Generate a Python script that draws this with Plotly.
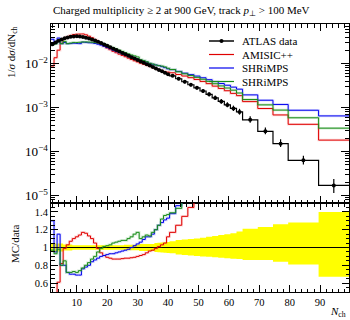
import plotly.graph_objects as go

# ---------------- data ----------------
bin_edges = [1.5, 2.5, 3.5, 4.5, 5.5, 6.5, 7.5, 8.5, 9.5, 10.5,
             11.5, 12.5, 13.5, 14.5, 15.5, 16.5, 17.5, 18.5, 19.5, 20.5,
             21.5, 22.5, 23.5, 24.5, 25.5, 26.5, 27.5, 28.5, 29.5, 30.5,
             31.5, 32.5, 33.5, 34.5, 35.5, 36.5, 37.5, 38.5, 39.5, 40.5,
             42.5, 44.5, 46.5, 48.5, 50.5, 52.5, 54.5, 56.5, 58.5, 60.5,
             62.5, 64.5, 69.5, 74.5, 79.5, 89.5, 99.5]

atlas_data = [0.0275, 0.0302, 0.0331, 0.0355, 0.0376, 0.0394, 0.0407, 0.0415, 0.0417, 0.0412,
              0.0403, 0.0389, 0.0372, 0.0352, 0.0333, 0.0313, 0.0292, 0.0272, 0.0253, 0.0235,
              0.0218, 0.0203, 0.0188, 0.0175, 0.0163, 0.0151, 0.0140, 0.0130, 0.0121, 0.0112,
              0.01045, 0.0097, 0.0090, 0.00836, 0.00774, 0.00718, 0.00665, 0.00617, 0.00571,
              0.00528, 0.00452, 0.00386, 0.00330, 0.00281, 0.00238, 0.00200, 0.00166, 0.00138,
              0.00115, 0.000955, 0.000794,
              0.000525, 0.000288, 0.000151, 0.000063, 0.000017]

# relative data uncertainty (up / down)
err_up = [0.045, 0.045, 0.045, 0.045, 0.035, 0.035, 0.035, 0.025, 0.025, 0.025,
          0.025, 0.025, 0.025, 0.025, 0.025, 0.025, 0.025, 0.025, 0.025, 0.025,
          0.025, 0.025, 0.025, 0.025, 0.03, 0.03, 0.03, 0.03, 0.03, 0.04,
          0.04, 0.04, 0.04, 0.04, 0.05, 0.052, 0.055, 0.058, 0.062,
          0.07, 0.085, 0.09, 0.095, 0.10, 0.11, 0.12, 0.13, 0.14, 0.15, 0.16, 0.18,
          0.21, 0.23, 0.26, 0.28, 0.40]
err_dn = [0.045, 0.045, 0.045, 0.045, 0.035, 0.035, 0.035, 0.025, 0.025, 0.025,
          0.025, 0.025, 0.025, 0.025, 0.025, 0.025, 0.025, 0.025, 0.025, 0.025,
          0.025, 0.025, 0.025, 0.025, 0.03, 0.03, 0.03, 0.03, 0.03, 0.04,
          0.04, 0.04, 0.04, 0.04, 0.05, 0.052, 0.055, 0.058, 0.062,
          0.065, 0.08, 0.085, 0.09, 0.095, 0.10, 0.105, 0.11, 0.115, 0.12, 0.125, 0.13,
          0.14, 0.14, 0.16, 0.19, 0.33]

# MC / data ratios
ratio_amisic = [0.32, 0.45, 0.61, 0.82, 0.99, 1.03, 1.07, 1.10, 1.12, 1.14,
                1.17, 1.16, 1.13, 1.10, 1.05, 0.99, 0.94, 0.91, 0.89, 0.88,
                0.87, 0.87, 0.87, 0.875, 0.88, 0.88, 0.885, 0.89, 0.90, 0.91,
                0.92, 0.94, 0.96, 0.97, 0.99, 1.01, 1.03, 1.05, 1.12,
                1.17, 1.25, 1.35, 1.45, 1.55, 1.65, 1.75, 1.85, 1.97, 2.1, 2.2, 2.35,
                2.6, 3.3, 4.5, 6.6, 10.7]
ratio_shrimps_blue = [1.30, 0.95, 1.15, 0.80, 0.80, 0.72, 0.70, 0.70, 0.69, 0.69,
                      0.76, 0.78, 0.80, 0.84, 0.86, 0.88, 0.90, 0.91, 0.92, 0.93,
                      0.93, 0.94, 0.95, 0.96, 0.97, 0.98, 1.00, 1.02, 1.04, 1.06,
                      1.09, 1.12, 1.12, 1.15, 1.20, 1.25, 1.28, 1.31, 1.33,
                      1.38, 1.47, 1.57, 1.70, 1.85, 2.0, 2.15, 2.35, 2.55, 2.8, 3.05, 3.3,
                      3.7, 5.1, 7.8, 13.8, 38.0]
ratio_shrimps_green = [0.97, 0.93, 0.98, 0.80, 0.85, 0.72, 0.72, 0.73, 0.72, 0.74,
                       0.77, 0.80, 0.83, 0.87, 0.90, 0.95, 0.99, 1.01, 1.02, 1.03,
                       1.05, 1.06, 1.07, 1.08, 1.08, 1.10, 1.12, 1.15, 1.17, 1.10,
                       1.12, 1.14, 1.13, 1.17, 1.20, 1.25, 1.32, 1.36, 1.37,
                       1.39, 1.44, 1.52, 1.62, 1.73, 1.85, 1.97, 2.1, 2.25, 2.42, 2.6, 2.7,
                       2.9, 4.0, 5.8, 9.3, 20.0]

x_ticks = [10, 20, 30, 40, 50, 60, 70, 80, 90]
ratio_ticks = [0.6, 0.8, 1.0, 1.2, 1.4]
ratio_ticktext = ["0.6", "0.8", "1", "1.2", "1.4"]

# ---------------- derived ----------------
centres = [(bin_edges[i] + bin_edges[i + 1]) / 2 for i in range(len(atlas_data))]


def step(vals):
    return list(bin_edges), list(vals) + [vals[-1]]


mc_series = [
    ("AMISIC++", ratio_amisic, "#e00000", "rgba(240,90,90,0.22)"),
    ("SHRiMPS", ratio_shrimps_blue, "#0000ee", "rgba(90,90,255,0.22)"),
    ("SHRiMPS", ratio_shrimps_green, "#1a8c1a", "rgba(60,170,60,0.22)"),
]

FONT = "Liberation Serif"
fig = go.Figure()

# ---- ratio panel: yellow band ----
lo = [1 - e for e in err_dn]
hi = [1 + e for e in err_up]
bx, by = step(lo)
fig.add_trace(go.Scatter(x=bx, y=by, mode="lines", line=dict(width=0, shape="hv"),
                         xaxis="x2", yaxis="y2", showlegend=False, hoverinfo="skip"))
bx, by = step(hi)
fig.add_trace(go.Scatter(x=bx, y=by, mode="lines", line=dict(width=0, shape="hv"),
                         fill="tonexty", fillcolor="#ffff00",
                         xaxis="x2", yaxis="y2", showlegend=False, hoverinfo="skip"))
bx, by = step([1.0] * len(atlas_data))
fig.add_trace(go.Scatter(x=bx, y=by, mode="lines", line=dict(color="black", width=1.2, shape="hv"),
                         xaxis="x2", yaxis="y2", showlegend=False))

# ---- MC curves ----
for name, ratio, col, pale in mc_series:
    mc = [r * d for r, d in zip(ratio, atlas_data)]
    sx, sy = step(mc)
    fig.add_trace(go.Scatter(x=sx, y=sy, mode="lines", line=dict(color=pale, width=2.5, shape="hv"),
                             xaxis="x", yaxis="y", showlegend=False, hoverinfo="skip"))
    fig.add_trace(go.Scatter(x=sx, y=sy, mode="lines", line=dict(color=col, width=1, shape="hv"),
                             xaxis="x", yaxis="y", showlegend=False, name=name))
    rx, ry = step(ratio)
    fig.add_trace(go.Scatter(x=rx, y=ry, mode="lines", line=dict(color=pale, width=2.5, shape="hv"),
                             xaxis="x2", yaxis="y2", showlegend=False, hoverinfo="skip"))
    fig.add_trace(go.Scatter(x=rx, y=ry, mode="lines", line=dict(color=col, width=1, shape="hv"),
                             xaxis="x2", yaxis="y2", showlegend=False, name=name))

# ---- data ----
sx, sy = step(atlas_data)
fig.add_trace(go.Scatter(x=sx, y=sy, mode="lines", line=dict(color="black", width=1.2, shape="hv"),
                         xaxis="x", yaxis="y", showlegend=False))
fig.add_trace(go.Scatter(
    x=centres, y=atlas_data, mode="markers",
    marker=dict(color="black", size=4),
    error_y=dict(type="data", symmetric=False,
                 array=[d * e for d, e in zip(atlas_data, err_up)],
                 arrayminus=[d * e for d, e in zip(atlas_data, err_dn)],
                 color="black", thickness=1.2, width=0),
    xaxis="x", yaxis="y", showlegend=False, name="ATLAS data"))

# ---------------- layout ----------------
L, R, T, B = 51, 1, 24, 28
W, H = 350, 320
pw, ph = W - L - R, H - T - B
split = 89 / ph


def px_x(p):
    return (p - L) / pw


def px_y(p):
    return (H - B - p) / ph


axis_common = dict(showline=True, linecolor="black", linewidth=1, mirror="ticks",
                   ticks="inside", tickcolor="black", showgrid=False, zeroline=False)

fig.update_layout(
    width=W, height=H,
    margin=dict(l=L, r=R, t=T, b=B),
    paper_bgcolor="white", plot_bgcolor="white",
    font=dict(family=FONT, size=11, color="black"),
    xaxis=dict(domain=[0, 1], range=[1.5, 99.5], anchor="y", showticklabels=False,
               tickvals=x_ticks, ticklen=7, tickwidth=1,
               minor=dict(ticks="inside", dtick=2, tick0=0, ticklen=3.5, tickcolor="black"),
               **axis_common),
    xaxis2=dict(domain=[0, 1], range=[1.5, 99.5], anchor="y2", matches="x",
                tickvals=x_ticks, ticklen=7, tickwidth=1,
                tickfont=dict(family=FONT, size=10.5),
                minor=dict(ticks="inside", dtick=2, tick0=0, ticklen=3.5, tickcolor="black"),
                **axis_common),
    yaxis=dict(domain=[split, 1], type="log", range=[-5.17, -1.10], anchor="x",
               dtick=1, exponentformat="power", ticklen=8,
               tickfont=dict(family=FONT, size=10.5),
               minor=dict(ticks="inside", ticklen=4, tickcolor="black", dtick="D1"),
               **axis_common),
    yaxis2=dict(domain=[0, split], range=[0.5, 1.5], anchor="x2",
                tickvals=ratio_ticks, ticktext=ratio_ticktext, ticklen=7,
                tickfont=dict(family=FONT, size=10.5),
                minor=dict(ticks="inside", dtick=0.05, tick0=0, ticklen=3.5, tickcolor="black"),
                **axis_common),
)

ann = []
ann.append(dict(text="Charged multiplicity ≥ 2 at 900 GeV, track <i>p</i><sub>⊥</sub> > 100 MeV",
                xref="paper", yref="paper", x=px_x(51), y=px_y(11), xanchor="left", yanchor="middle",
                showarrow=False, font=dict(family=FONT, size=11)))
ann.append(dict(text="1/<i>σ</i> d<i>σ</i>/dN<sub>ch</sub>", textangle=-90,
                xref="paper", yref="paper", x=px_x(12), y=px_y(24), xanchor="center", yanchor="top",
                showarrow=False, font=dict(family=FONT, size=11)))
ann.append(dict(text="MC/data", textangle=-90,
                xref="paper", yref="paper", x=px_x(15), y=px_y(244), xanchor="center", yanchor="middle",
                showarrow=False, font=dict(family=FONT, size=11)))
ann.append(dict(text="<i>N</i><sub>ch</sub>",
                xref="paper", yref="paper", x=px_x(348), y=px_y(312), xanchor="right", yanchor="middle",
                showarrow=False, font=dict(family=FONT, size=11)))

# custom legend
legend_rows = [("ATLAS data", "black", 41), ("AMISIC++", "#e00000", 54.5),
               ("SHRiMPS", "#0000ee", 68), ("SHRiMPS", "#1a8c1a", 81.5)]
shapes = []
for i, (lab, col, yp) in enumerate(legend_rows):
    shapes.append(dict(type="line", xref="paper", yref="paper",
                       x0=px_x(209), x1=px_x(234), y0=px_y(yp), y1=px_y(yp),
                       line=dict(color=col if i else "#444444", width=2 if i == 0 else 1.2)))
    ann.append(dict(text=lab, xref="paper", yref="paper", x=px_x(240), y=px_y(yp),
                    xanchor="left", yanchor="middle", showarrow=False,
                    font=dict(family=FONT, size=11)))
shapes.append(dict(type="circle", xref="paper", yref="paper",
                   x0=px_x(219.5), x1=px_x(223.5), y0=px_y(43), y1=px_y(39),
                   fillcolor="black", line=dict(color="black", width=0)))

fig.update_layout(annotations=ann, shapes=shapes)
fig.write_html("out.html")
